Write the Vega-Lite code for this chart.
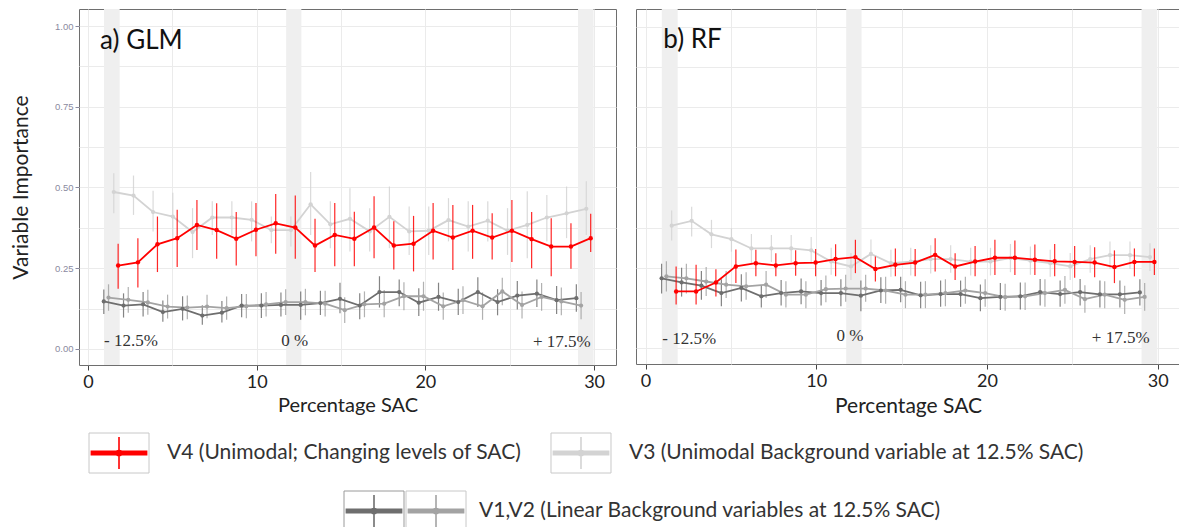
{
"$schema": "https://vega.github.io/schema/vega-lite/v6.json",
"background": "white",
"padding": {"left": 10, "top": 8, "right": 0, "bottom": 0},
"config": {"view": {"stroke": "#6e6e6e", "strokeWidth": 1}, "axis": {"gridColor": "#ebebeb", "gridWidth": 1}, "font": "Lato"},
"datasets": {
"bands": [{"start": 0.95, "end": 1.88}, {"start": 11.75, "end": 12.65}, {"start": 29.05, "end": 29.97}],
"notes": [
{"panel": "GLM", "label": "a) GLM", "sac": 0.72, "imp": 0.929},
{"panel": "GLM", "label": "- 12.5%", "sac": 0.95, "imp": 0.024},
{"panel": "GLM", "label": "0 %", "sac": 12.25, "imp": 0.024},
{"panel": "GLM", "label": "+ 17.5%", "sac": 29.8, "imp": 0.022},
{"panel": "RF", "label": "b) RF", "sac": 1.04, "imp": 0.935},
{"panel": "RF", "label": "- 12.5%", "sac": 0.98, "imp": 0.028},
{"panel": "RF", "label": "0 %", "sac": 11.97, "imp": 0.036},
{"panel": "RF", "label": "+ 17.5%", "sac": 29.52, "imp": 0.031}
],
"leg1": [{"series": "V4", "label": "V4 (Unimodal; Changing levels of SAC)"}, {"series": "V3", "label": "V3 (Unimodal Background variable at 12.5% SAC)"}],
"leg2": [{"series": "V1", "label": ""}, {"series": "V2", "label": "V1,V2 (Linear Background variables at 12.5% SAC)"}],
"pts": [
{"panel":"GLM","series":"V4","sac":1.79,"imp":0.258,"lo":0.186,"hi":0.326},
{"panel":"GLM","series":"V4","sac":2.96,"imp":0.268,"lo":0.190,"hi":0.343},
{"panel":"GLM","series":"V4","sac":4.12,"imp":0.324,"lo":0.238,"hi":0.410},
{"panel":"GLM","series":"V4","sac":5.29,"imp":0.343,"lo":0.254,"hi":0.431},
{"panel":"GLM","series":"V4","sac":6.46,"imp":0.384,"lo":0.306,"hi":0.461},
{"panel":"GLM","series":"V4","sac":7.63,"imp":0.368,"lo":0.279,"hi":0.451},
{"panel":"GLM","series":"V4","sac":8.79,"imp":0.341,"lo":0.258,"hi":0.424},
{"panel":"GLM","series":"V4","sac":9.96,"imp":0.369,"lo":0.287,"hi":0.452},
{"panel":"GLM","series":"V4","sac":11.13,"imp":0.389,"lo":0.295,"hi":0.480},
{"panel":"GLM","series":"V4","sac":12.29,"imp":0.376,"lo":0.279,"hi":0.475},
{"panel":"GLM","series":"V4","sac":13.46,"imp":0.320,"lo":0.238,"hi":0.403},
{"panel":"GLM","series":"V4","sac":14.63,"imp":0.353,"lo":0.256,"hi":0.452},
{"panel":"GLM","series":"V4","sac":15.79,"imp":0.341,"lo":0.256,"hi":0.425},
{"panel":"GLM","series":"V4","sac":16.96,"imp":0.376,"lo":0.281,"hi":0.473},
{"panel":"GLM","series":"V4","sac":18.13,"imp":0.320,"lo":0.246,"hi":0.395},
{"panel":"GLM","series":"V4","sac":19.30,"imp":0.326,"lo":0.240,"hi":0.412},
{"panel":"GLM","series":"V4","sac":20.46,"imp":0.366,"lo":0.277,"hi":0.452},
{"panel":"GLM","series":"V4","sac":21.63,"imp":0.345,"lo":0.244,"hi":0.446},
{"panel":"GLM","series":"V4","sac":22.80,"imp":0.366,"lo":0.279,"hi":0.446},
{"panel":"GLM","series":"V4","sac":23.96,"imp":0.345,"lo":0.277,"hi":0.420},
{"panel":"GLM","series":"V4","sac":25.13,"imp":0.366,"lo":0.269,"hi":0.461},
{"panel":"GLM","series":"V4","sac":26.30,"imp":0.340,"lo":0.250,"hi":0.424},
{"panel":"GLM","series":"V4","sac":27.46,"imp":0.317,"lo":0.225,"hi":0.405},
{"panel":"GLM","series":"V4","sac":28.63,"imp":0.317,"lo":0.248,"hi":0.389},
{"panel":"GLM","series":"V4","sac":29.80,"imp":0.343,"lo":0.300,"hi":0.419},
{"panel":"GLM","series":"V3","sac":1.53,"imp":0.486,"lo":0.420,"hi":0.544},
{"panel":"GLM","series":"V3","sac":2.70,"imp":0.475,"lo":0.415,"hi":0.537},
{"panel":"GLM","series":"V3","sac":3.86,"imp":0.424,"lo":0.364,"hi":0.490},
{"panel":"GLM","series":"V3","sac":5.03,"imp":0.410,"lo":0.343,"hi":0.484},
{"panel":"GLM","series":"V3","sac":6.20,"imp":0.362,"lo":0.281,"hi":0.436},
{"panel":"GLM","series":"V3","sac":7.37,"imp":0.407,"lo":0.353,"hi":0.457},
{"panel":"GLM","series":"V3","sac":8.53,"imp":0.407,"lo":0.353,"hi":0.457},
{"panel":"GLM","series":"V3","sac":9.70,"imp":0.400,"lo":0.333,"hi":0.457},
{"panel":"GLM","series":"V3","sac":10.87,"imp":0.368,"lo":0.327,"hi":0.410},
{"panel":"GLM","series":"V3","sac":12.03,"imp":0.368,"lo":0.317,"hi":0.410},
{"panel":"GLM","series":"V3","sac":13.20,"imp":0.448,"lo":0.353,"hi":0.548},
{"panel":"GLM","series":"V3","sac":14.37,"imp":0.386,"lo":0.312,"hi":0.457},
{"panel":"GLM","series":"V3","sac":15.53,"imp":0.403,"lo":0.302,"hi":0.498},
{"panel":"GLM","series":"V3","sac":16.70,"imp":0.364,"lo":0.302,"hi":0.436},
{"panel":"GLM","series":"V3","sac":17.87,"imp":0.409,"lo":0.312,"hi":0.503},
{"panel":"GLM","series":"V3","sac":19.04,"imp":0.364,"lo":0.291,"hi":0.441},
{"panel":"GLM","series":"V3","sac":20.20,"imp":0.366,"lo":0.291,"hi":0.441},
{"panel":"GLM","series":"V3","sac":21.37,"imp":0.399,"lo":0.333,"hi":0.467},
{"panel":"GLM","series":"V3","sac":22.54,"imp":0.379,"lo":0.302,"hi":0.457},
{"panel":"GLM","series":"V3","sac":23.70,"imp":0.397,"lo":0.333,"hi":0.457},
{"panel":"GLM","series":"V3","sac":24.87,"imp":0.366,"lo":0.291,"hi":0.436},
{"panel":"GLM","series":"V3","sac":26.04,"imp":0.384,"lo":0.281,"hi":0.488},
{"panel":"GLM","series":"V3","sac":27.20,"imp":0.407,"lo":0.333,"hi":0.477},
{"panel":"GLM","series":"V3","sac":28.37,"imp":0.420,"lo":0.343,"hi":0.503},
{"panel":"GLM","series":"V3","sac":29.54,"imp":0.434,"lo":0.353,"hi":0.519},
{"panel":"GLM","series":"V1","sac":0.94,"imp":0.147,"lo":0.108,"hi":0.184},
{"panel":"GLM","series":"V1","sac":2.11,"imp":0.134,"lo":0.097,"hi":0.172},
{"panel":"GLM","series":"V1","sac":3.27,"imp":0.138,"lo":0.100,"hi":0.176},
{"panel":"GLM","series":"V1","sac":4.44,"imp":0.114,"lo":0.084,"hi":0.150},
{"panel":"GLM","series":"V1","sac":5.61,"imp":0.124,"lo":0.088,"hi":0.163},
{"panel":"GLM","series":"V1","sac":6.78,"imp":0.103,"lo":0.075,"hi":0.135},
{"panel":"GLM","series":"V1","sac":7.94,"imp":0.112,"lo":0.082,"hi":0.148},
{"panel":"GLM","series":"V1","sac":9.11,"imp":0.134,"lo":0.098,"hi":0.170},
{"panel":"GLM","series":"V1","sac":10.28,"imp":0.134,"lo":0.096,"hi":0.172},
{"panel":"GLM","series":"V1","sac":11.44,"imp":0.136,"lo":0.100,"hi":0.175},
{"panel":"GLM","series":"V1","sac":12.61,"imp":0.136,"lo":0.090,"hi":0.178},
{"panel":"GLM","series":"V1","sac":13.78,"imp":0.142,"lo":0.105,"hi":0.180},
{"panel":"GLM","series":"V1","sac":14.94,"imp":0.155,"lo":0.110,"hi":0.205},
{"panel":"GLM","series":"V1","sac":16.11,"imp":0.134,"lo":0.092,"hi":0.172},
{"panel":"GLM","series":"V1","sac":17.28,"imp":0.176,"lo":0.128,"hi":0.225},
{"panel":"GLM","series":"V1","sac":18.45,"imp":0.176,"lo":0.132,"hi":0.215},
{"panel":"GLM","series":"V1","sac":19.61,"imp":0.143,"lo":0.102,"hi":0.188},
{"panel":"GLM","series":"V1","sac":20.78,"imp":0.161,"lo":0.118,"hi":0.205},
{"panel":"GLM","series":"V1","sac":21.95,"imp":0.145,"lo":0.105,"hi":0.186},
{"panel":"GLM","series":"V1","sac":23.11,"imp":0.176,"lo":0.130,"hi":0.222},
{"panel":"GLM","series":"V1","sac":24.28,"imp":0.145,"lo":0.104,"hi":0.185},
{"panel":"GLM","series":"V1","sac":25.45,"imp":0.165,"lo":0.122,"hi":0.210},
{"panel":"GLM","series":"V1","sac":26.61,"imp":0.171,"lo":0.130,"hi":0.215},
{"panel":"GLM","series":"V1","sac":27.78,"imp":0.151,"lo":0.108,"hi":0.195},
{"panel":"GLM","series":"V1","sac":28.95,"imp":0.157,"lo":0.115,"hi":0.200},
{"panel":"GLM","series":"V2","sac":1.22,"imp":0.159,"lo":0.118,"hi":0.200},
{"panel":"GLM","series":"V2","sac":2.39,"imp":0.152,"lo":0.112,"hi":0.192},
{"panel":"GLM","series":"V2","sac":3.55,"imp":0.144,"lo":0.106,"hi":0.183},
{"panel":"GLM","series":"V2","sac":4.72,"imp":0.131,"lo":0.094,"hi":0.168},
{"panel":"GLM","series":"V2","sac":5.89,"imp":0.128,"lo":0.092,"hi":0.165},
{"panel":"GLM","series":"V2","sac":7.06,"imp":0.131,"lo":0.095,"hi":0.168},
{"panel":"GLM","series":"V2","sac":8.22,"imp":0.126,"lo":0.090,"hi":0.162},
{"panel":"GLM","series":"V2","sac":9.39,"imp":0.132,"lo":0.095,"hi":0.170},
{"panel":"GLM","series":"V2","sac":10.56,"imp":0.138,"lo":0.100,"hi":0.176},
{"panel":"GLM","series":"V2","sac":11.72,"imp":0.145,"lo":0.105,"hi":0.185},
{"panel":"GLM","series":"V2","sac":12.89,"imp":0.145,"lo":0.104,"hi":0.186},
{"panel":"GLM","series":"V2","sac":14.06,"imp":0.140,"lo":0.100,"hi":0.180},
{"panel":"GLM","series":"V2","sac":15.22,"imp":0.120,"lo":0.080,"hi":0.160},
{"panel":"GLM","series":"V2","sac":16.39,"imp":0.138,"lo":0.098,"hi":0.178},
{"panel":"GLM","series":"V2","sac":17.56,"imp":0.140,"lo":0.098,"hi":0.182},
{"panel":"GLM","series":"V2","sac":18.73,"imp":0.163,"lo":0.120,"hi":0.206},
{"panel":"GLM","series":"V2","sac":19.89,"imp":0.163,"lo":0.118,"hi":0.208},
{"panel":"GLM","series":"V2","sac":21.06,"imp":0.132,"lo":0.090,"hi":0.175},
{"panel":"GLM","series":"V2","sac":22.23,"imp":0.151,"lo":0.108,"hi":0.194},
{"panel":"GLM","series":"V2","sac":23.39,"imp":0.132,"lo":0.090,"hi":0.175},
{"panel":"GLM","series":"V2","sac":24.56,"imp":0.178,"lo":0.135,"hi":0.220},
{"panel":"GLM","series":"V2","sac":25.73,"imp":0.136,"lo":0.094,"hi":0.178},
{"panel":"GLM","series":"V2","sac":26.89,"imp":0.161,"lo":0.118,"hi":0.204},
{"panel":"GLM","series":"V2","sac":28.06,"imp":0.147,"lo":0.104,"hi":0.190},
{"panel":"GLM","series":"V2","sac":29.23,"imp":0.134,"lo":0.092,"hi":0.176},
{"panel":"RF","series":"V4","sac":1.79,"imp":0.176,"lo":0.135,"hi":0.254},
{"panel":"RF","series":"V4","sac":2.96,"imp":0.176,"lo":0.135,"hi":0.259},
{"panel":"RF","series":"V4","sac":4.12,"imp":0.204,"lo":0.160,"hi":0.245},
{"panel":"RF","series":"V4","sac":5.29,"imp":0.254,"lo":0.202,"hi":0.307},
{"panel":"RF","series":"V4","sac":6.46,"imp":0.264,"lo":0.223,"hi":0.306},
{"panel":"RF","series":"V4","sac":7.63,"imp":0.257,"lo":0.223,"hi":0.295},
{"panel":"RF","series":"V4","sac":8.79,"imp":0.264,"lo":0.225,"hi":0.304},
{"panel":"RF","series":"V4","sac":9.96,"imp":0.266,"lo":0.223,"hi":0.308},
{"panel":"RF","series":"V4","sac":11.13,"imp":0.277,"lo":0.223,"hi":0.323},
{"panel":"RF","series":"V4","sac":12.29,"imp":0.283,"lo":0.233,"hi":0.337},
{"panel":"RF","series":"V4","sac":13.46,"imp":0.246,"lo":0.207,"hi":0.285},
{"panel":"RF","series":"V4","sac":14.63,"imp":0.259,"lo":0.223,"hi":0.310},
{"panel":"RF","series":"V4","sac":15.79,"imp":0.266,"lo":0.223,"hi":0.308},
{"panel":"RF","series":"V4","sac":16.96,"imp":0.290,"lo":0.238,"hi":0.342},
{"panel":"RF","series":"V4","sac":18.13,"imp":0.254,"lo":0.212,"hi":0.295},
{"panel":"RF","series":"V4","sac":19.30,"imp":0.269,"lo":0.223,"hi":0.318},
{"panel":"RF","series":"V4","sac":20.46,"imp":0.281,"lo":0.227,"hi":0.337},
{"panel":"RF","series":"V4","sac":21.63,"imp":0.281,"lo":0.227,"hi":0.335},
{"panel":"RF","series":"V4","sac":22.80,"imp":0.275,"lo":0.227,"hi":0.322},
{"panel":"RF","series":"V4","sac":23.96,"imp":0.270,"lo":0.223,"hi":0.324},
{"panel":"RF","series":"V4","sac":25.13,"imp":0.268,"lo":0.219,"hi":0.318},
{"panel":"RF","series":"V4","sac":26.30,"imp":0.266,"lo":0.220,"hi":0.314},
{"panel":"RF","series":"V4","sac":27.46,"imp":0.252,"lo":0.202,"hi":0.304},
{"panel":"RF","series":"V4","sac":28.63,"imp":0.268,"lo":0.223,"hi":0.310},
{"panel":"RF","series":"V4","sac":29.80,"imp":0.268,"lo":0.227,"hi":0.310},
{"panel":"RF","series":"V3","sac":1.53,"imp":0.381,"lo":0.335,"hi":0.428},
{"panel":"RF","series":"V3","sac":2.70,"imp":0.396,"lo":0.347,"hi":0.440},
{"panel":"RF","series":"V3","sac":3.86,"imp":0.354,"lo":0.311,"hi":0.399},
{"panel":"RF","series":"V3","sac":5.03,"imp":0.339,"lo":0.300,"hi":0.373},
{"panel":"RF","series":"V3","sac":6.20,"imp":0.310,"lo":0.264,"hi":0.355},
{"panel":"RF","series":"V3","sac":7.37,"imp":0.310,"lo":0.268,"hi":0.352},
{"panel":"RF","series":"V3","sac":8.53,"imp":0.310,"lo":0.268,"hi":0.352},
{"panel":"RF","series":"V3","sac":9.70,"imp":0.304,"lo":0.262,"hi":0.346},
{"panel":"RF","series":"V3","sac":10.87,"imp":0.269,"lo":0.228,"hi":0.312},
{"panel":"RF","series":"V3","sac":12.03,"imp":0.254,"lo":0.212,"hi":0.296},
{"panel":"RF","series":"V3","sac":13.20,"imp":0.293,"lo":0.250,"hi":0.338},
{"panel":"RF","series":"V3","sac":14.37,"imp":0.264,"lo":0.222,"hi":0.306},
{"panel":"RF","series":"V3","sac":15.53,"imp":0.269,"lo":0.226,"hi":0.312},
{"panel":"RF","series":"V3","sac":16.70,"imp":0.277,"lo":0.232,"hi":0.320},
{"panel":"RF","series":"V3","sac":17.87,"imp":0.277,"lo":0.234,"hi":0.320},
{"panel":"RF","series":"V3","sac":19.04,"imp":0.269,"lo":0.226,"hi":0.312},
{"panel":"RF","series":"V3","sac":20.20,"imp":0.269,"lo":0.226,"hi":0.312},
{"panel":"RF","series":"V3","sac":21.37,"imp":0.280,"lo":0.236,"hi":0.324},
{"panel":"RF","series":"V3","sac":22.54,"imp":0.272,"lo":0.228,"hi":0.316},
{"panel":"RF","series":"V3","sac":23.70,"imp":0.264,"lo":0.222,"hi":0.306},
{"panel":"RF","series":"V3","sac":24.87,"imp":0.254,"lo":0.212,"hi":0.296},
{"panel":"RF","series":"V3","sac":26.04,"imp":0.277,"lo":0.234,"hi":0.320},
{"panel":"RF","series":"V3","sac":27.20,"imp":0.289,"lo":0.246,"hi":0.332},
{"panel":"RF","series":"V3","sac":28.37,"imp":0.289,"lo":0.246,"hi":0.332},
{"panel":"RF","series":"V3","sac":29.54,"imp":0.283,"lo":0.240,"hi":0.326},
{"panel":"RF","series":"V1","sac":0.94,"imp":0.217,"lo":0.170,"hi":0.262},
{"panel":"RF","series":"V1","sac":2.11,"imp":0.204,"lo":0.160,"hi":0.250},
{"panel":"RF","series":"V1","sac":3.27,"imp":0.194,"lo":0.150,"hi":0.240},
{"panel":"RF","series":"V1","sac":4.44,"imp":0.171,"lo":0.130,"hi":0.214},
{"panel":"RF","series":"V1","sac":5.61,"imp":0.187,"lo":0.145,"hi":0.230},
{"panel":"RF","series":"V1","sac":6.78,"imp":0.161,"lo":0.126,"hi":0.196},
{"panel":"RF","series":"V1","sac":7.94,"imp":0.171,"lo":0.132,"hi":0.212},
{"panel":"RF","series":"V1","sac":9.11,"imp":0.176,"lo":0.136,"hi":0.216},
{"panel":"RF","series":"V1","sac":10.28,"imp":0.171,"lo":0.132,"hi":0.212},
{"panel":"RF","series":"V1","sac":11.44,"imp":0.171,"lo":0.130,"hi":0.214},
{"panel":"RF","series":"V1","sac":12.61,"imp":0.163,"lo":0.114,"hi":0.210},
{"panel":"RF","series":"V1","sac":13.78,"imp":0.179,"lo":0.140,"hi":0.220},
{"panel":"RF","series":"V1","sac":14.94,"imp":0.181,"lo":0.142,"hi":0.222},
{"panel":"RF","series":"V1","sac":16.11,"imp":0.164,"lo":0.124,"hi":0.206},
{"panel":"RF","series":"V1","sac":17.28,"imp":0.168,"lo":0.128,"hi":0.210},
{"panel":"RF","series":"V1","sac":18.45,"imp":0.168,"lo":0.128,"hi":0.210},
{"panel":"RF","series":"V1","sac":19.61,"imp":0.155,"lo":0.114,"hi":0.198},
{"panel":"RF","series":"V1","sac":20.78,"imp":0.159,"lo":0.118,"hi":0.202},
{"panel":"RF","series":"V1","sac":21.95,"imp":0.161,"lo":0.120,"hi":0.204},
{"panel":"RF","series":"V1","sac":23.11,"imp":0.174,"lo":0.132,"hi":0.215},
{"panel":"RF","series":"V1","sac":24.28,"imp":0.168,"lo":0.128,"hi":0.210},
{"panel":"RF","series":"V1","sac":25.45,"imp":0.174,"lo":0.132,"hi":0.215},
{"panel":"RF","series":"V1","sac":26.61,"imp":0.167,"lo":0.126,"hi":0.210},
{"panel":"RF","series":"V1","sac":27.78,"imp":0.167,"lo":0.126,"hi":0.210},
{"panel":"RF","series":"V1","sac":28.95,"imp":0.173,"lo":0.132,"hi":0.214},
{"panel":"RF","series":"V2","sac":1.22,"imp":0.223,"lo":0.176,"hi":0.270},
{"panel":"RF","series":"V2","sac":2.39,"imp":0.217,"lo":0.170,"hi":0.262},
{"panel":"RF","series":"V2","sac":3.55,"imp":0.207,"lo":0.162,"hi":0.252},
{"panel":"RF","series":"V2","sac":4.72,"imp":0.197,"lo":0.156,"hi":0.240},
{"panel":"RF","series":"V2","sac":5.89,"imp":0.192,"lo":0.150,"hi":0.236},
{"panel":"RF","series":"V2","sac":7.06,"imp":0.197,"lo":0.156,"hi":0.240},
{"panel":"RF","series":"V2","sac":8.22,"imp":0.166,"lo":0.126,"hi":0.208},
{"panel":"RF","series":"V2","sac":9.39,"imp":0.166,"lo":0.124,"hi":0.208},
{"panel":"RF","series":"V2","sac":10.56,"imp":0.183,"lo":0.142,"hi":0.226},
{"panel":"RF","series":"V2","sac":11.72,"imp":0.185,"lo":0.144,"hi":0.228},
{"panel":"RF","series":"V2","sac":12.89,"imp":0.185,"lo":0.144,"hi":0.228},
{"panel":"RF","series":"V2","sac":14.06,"imp":0.179,"lo":0.138,"hi":0.222},
{"panel":"RF","series":"V2","sac":15.22,"imp":0.166,"lo":0.124,"hi":0.208},
{"panel":"RF","series":"V2","sac":16.39,"imp":0.166,"lo":0.124,"hi":0.208},
{"panel":"RF","series":"V2","sac":17.56,"imp":0.171,"lo":0.130,"hi":0.214},
{"panel":"RF","series":"V2","sac":18.73,"imp":0.179,"lo":0.138,"hi":0.222},
{"panel":"RF","series":"V2","sac":19.89,"imp":0.171,"lo":0.128,"hi":0.214},
{"panel":"RF","series":"V2","sac":21.06,"imp":0.158,"lo":0.116,"hi":0.200},
{"panel":"RF","series":"V2","sac":22.23,"imp":0.161,"lo":0.118,"hi":0.204},
{"panel":"RF","series":"V2","sac":23.39,"imp":0.171,"lo":0.128,"hi":0.214},
{"panel":"RF","series":"V2","sac":24.56,"imp":0.181,"lo":0.138,"hi":0.224},
{"panel":"RF","series":"V2","sac":25.73,"imp":0.152,"lo":0.110,"hi":0.195},
{"panel":"RF","series":"V2","sac":26.89,"imp":0.166,"lo":0.124,"hi":0.208},
{"panel":"RF","series":"V2","sac":28.06,"imp":0.150,"lo":0.106,"hi":0.194},
{"panel":"RF","series":"V2","sac":29.23,"imp":0.159,"lo":0.116,"hi":0.202}
]
},
"spacing": 14,
"vconcat": [
{"hconcat": [
{"width": 537, "height": 356,
"layer": [
{"data": {"name": "bands"}, "mark": {"type": "rect", "color": "#efefef"},
 "encoding": {
  "x": {"field": "start", "type": "quantitative", "title": "Percentage SAC", "scale": {"domain": [-0.53, 31.3], "nice": false, "zero": false},
   "axis": {"values": [0,5,10,15,20,25,30], "labelExpr": "datum.value % 10 === 0 ? datum.label : ''", "tickOpacity": {"condition": {"test": "datum.value % 10 === 0", "value": 1}, "value": 0}, "grid": true, "domain": false, "tickSize": 5, "tickColor": "#444", "labelFontSize": 18, "labelFont": "Lato", "labelColor": "#222", "labelPadding": 3, "labelFlush": false, "titleFontSize": 20, "titleFont": "Lato", "titleFontWeight": "normal", "titleColor": "#222", "titlePadding": 4}},
  "x2": {"field": "end"}}},
{"data": {"name": "pts"}, "transform": [{"filter": "datum.panel === 'GLM' && datum.series !== 'V4'"}],
 "mark": {"type": "rule", "strokeWidth": 1.2, "opacity": 0.85},
 "encoding": {"x": {"field": "sac", "type": "quantitative", "title": "Percentage SAC"},
  "y": {"field": "lo", "type": "quantitative", "title": "Variable Importance", "scale": {"domain": [-0.05, 1.053], "nice": false, "zero": false},
   "axis": {"values": [0,0.125,0.25,0.375,0.5,0.625,0.75,0.875,1], "labelExpr": "datum.value % 0.25 === 0 ? format(datum.value, '.2f') : ''", "tickOpacity": {"condition": {"test": "datum.value % 0.25 === 0", "value": 1}, "value": 0}, "grid": true, "domain": false, "tickSize": 4, "tickColor": "#8a8aa0", "labelFont": "Liberation Sans", "labelFontSize": 9.5, "labelColor": "#8a8aa0", "labelPadding": 2, "titleFont": "Lato", "titleFontSize": 21, "titleFontWeight": "normal", "titleColor": "#222", "titlePadding": 23}},
  "y2": {"field": "hi"},
  "color": {"field": "series", "type": "nominal", "scale": {"domain": ["V1","V2","V3","V4"], "range": ["#6e6e6e","#a3a3a3","#d3d3d3","#ff0000"]}, "legend": null}}},
{"data": {"name": "pts"}, "transform": [{"filter": "datum.panel === 'GLM' && datum.series !== 'V4'"}],
 "mark": {"type": "line", "strokeWidth": 1.8},
 "encoding": {"x": {"field": "sac", "type": "quantitative", "title": "Percentage SAC"}, "y": {"field": "imp", "type": "quantitative", "title": "Variable Importance"}, "color": {"field": "series", "type": "nominal", "legend": null}}},
{"data": {"name": "pts"}, "transform": [{"filter": "datum.panel === 'GLM' && datum.series !== 'V4'"}],
 "mark": {"type": "circle", "size": 18, "opacity": 1},
 "encoding": {"x": {"field": "sac", "type": "quantitative", "title": "Percentage SAC"}, "y": {"field": "imp", "type": "quantitative", "title": "Variable Importance"}, "color": {"field": "series", "type": "nominal", "legend": null}}},
{"data": {"name": "pts"}, "transform": [{"filter": "datum.panel === 'GLM' && datum.series === 'V4'"}],
 "mark": {"type": "rule", "strokeWidth": 1.2, "opacity": 0.85},
 "encoding": {"x": {"field": "sac", "type": "quantitative", "title": "Percentage SAC"}, "y": {"field": "lo", "type": "quantitative", "title": "Variable Importance"}, "y2": {"field": "hi"}, "color": {"field": "series", "type": "nominal", "legend": null}}},
{"data": {"name": "pts"}, "transform": [{"filter": "datum.panel === 'GLM' && datum.series === 'V4'"}],
 "mark": {"type": "line", "strokeWidth": 1.8},
 "encoding": {"x": {"field": "sac", "type": "quantitative", "title": "Percentage SAC"}, "y": {"field": "imp", "type": "quantitative", "title": "Variable Importance"}, "color": {"field": "series", "type": "nominal", "legend": null}}},
{"data": {"name": "pts"}, "transform": [{"filter": "datum.panel === 'GLM' && datum.series === 'V4'"}],
 "mark": {"type": "circle", "size": 20, "opacity": 1},
 "encoding": {"x": {"field": "sac", "type": "quantitative", "title": "Percentage SAC"}, "y": {"field": "imp", "type": "quantitative", "title": "Variable Importance"}, "color": {"field": "series", "type": "nominal", "legend": null}}},
{"data": {"name": "notes"}, "transform": [{"filter": "datum.panel === 'GLM' && datum.label === 'a) GLM'"}],
 "mark": {"type": "text", "align": "left", "baseline": "alphabetic", "font": "Lato", "fontSize": 26, "color": "#111"},
 "encoding": {"x": {"field": "sac", "type": "quantitative", "title": "Percentage SAC"}, "y": {"field": "imp", "type": "quantitative", "title": "Variable Importance"}, "text": {"field": "label"}}},
{"data": {"name": "notes"}, "transform": [{"filter": "datum.panel === 'GLM' && datum.label === '- 12.5%'"}],
 "mark": {"type": "text", "align": "left", "baseline": "middle", "font": "Liberation Serif", "fontSize": 17, "color": "#333"},
 "encoding": {"x": {"field": "sac", "type": "quantitative", "title": "Percentage SAC"}, "y": {"field": "imp", "type": "quantitative", "title": "Variable Importance"}, "text": {"field": "label"}}},
{"data": {"name": "notes"}, "transform": [{"filter": "datum.panel === 'GLM' && datum.label === '0 %'"}],
 "mark": {"type": "text", "align": "center", "baseline": "middle", "font": "Liberation Serif", "fontSize": 17, "color": "#333"},
 "encoding": {"x": {"field": "sac", "type": "quantitative", "title": "Percentage SAC"}, "y": {"field": "imp", "type": "quantitative", "title": "Variable Importance"}, "text": {"field": "label"}}},
{"data": {"name": "notes"}, "transform": [{"filter": "datum.panel === 'GLM' && datum.label === '+ 17.5%'"}],
 "mark": {"type": "text", "align": "right", "baseline": "middle", "font": "Liberation Serif", "fontSize": 17, "color": "#333"},
 "encoding": {"x": {"field": "sac", "type": "quantitative", "title": "Percentage SAC"}, "y": {"field": "imp", "type": "quantitative", "title": "Variable Importance"}, "text": {"field": "label"}}}
]},
{"width": 544, "height": 355,
"layer": [
{"data": {"name": "bands"}, "mark": {"type": "rect", "color": "#efefef"},
 "encoding": {
  "x": {"field": "start", "type": "quantitative", "title": "Percentage SAC", "scale": {"domain": [-0.56, 31.3], "nice": false, "zero": false},
   "axis": {"values": [0,5,10,15,20,25,30], "labelExpr": "datum.value % 10 === 0 ? datum.label : ''", "tickOpacity": {"condition": {"test": "datum.value % 10 === 0", "value": 1}, "value": 0}, "grid": true, "domain": false, "tickSize": 5, "tickColor": "#444", "labelFontSize": 18, "labelFont": "Lato", "labelColor": "#222", "labelPadding": 3, "labelFlush": false, "titleFontSize": 21, "titleFont": "Lato", "titleFontWeight": "normal", "titleColor": "#222", "titlePadding": 5}},
  "x2": {"field": "end"}}},
{"data": {"name": "pts"}, "transform": [{"filter": "datum.panel === 'RF' && datum.series !== 'V4'"}],
 "mark": {"type": "rule", "strokeWidth": 1.2, "opacity": 0.85},
 "encoding": {"x": {"field": "sac", "type": "quantitative", "title": "Percentage SAC"},
  "y": {"field": "lo", "type": "quantitative", "title": null, "scale": {"domain": [-0.05, 1.056], "nice": false, "zero": false},
   "axis": {"values": [0,0.125,0.25,0.375,0.5,0.625,0.75,0.875,1], "grid": true, "labels": false, "ticks": false, "domain": false, "title": null}},
  "y2": {"field": "hi"},
  "color": {"field": "series", "type": "nominal", "scale": {"domain": ["V1","V2","V3","V4"], "range": ["#6e6e6e","#a3a3a3","#d3d3d3","#ff0000"]}, "legend": null}}},
{"data": {"name": "pts"}, "transform": [{"filter": "datum.panel === 'RF' && datum.series !== 'V4'"}],
 "mark": {"type": "line", "strokeWidth": 1.8},
 "encoding": {"x": {"field": "sac", "type": "quantitative", "title": "Percentage SAC"}, "y": {"field": "imp", "type": "quantitative", "title": null}, "color": {"field": "series", "type": "nominal", "legend": null}}},
{"data": {"name": "pts"}, "transform": [{"filter": "datum.panel === 'RF' && datum.series !== 'V4'"}],
 "mark": {"type": "circle", "size": 18, "opacity": 1},
 "encoding": {"x": {"field": "sac", "type": "quantitative", "title": "Percentage SAC"}, "y": {"field": "imp", "type": "quantitative", "title": null}, "color": {"field": "series", "type": "nominal", "legend": null}}},
{"data": {"name": "pts"}, "transform": [{"filter": "datum.panel === 'RF' && datum.series === 'V4'"}],
 "mark": {"type": "rule", "strokeWidth": 1.2, "opacity": 0.85},
 "encoding": {"x": {"field": "sac", "type": "quantitative", "title": "Percentage SAC"}, "y": {"field": "lo", "type": "quantitative", "title": null}, "y2": {"field": "hi"}, "color": {"field": "series", "type": "nominal", "legend": null}}},
{"data": {"name": "pts"}, "transform": [{"filter": "datum.panel === 'RF' && datum.series === 'V4'"}],
 "mark": {"type": "line", "strokeWidth": 1.8},
 "encoding": {"x": {"field": "sac", "type": "quantitative", "title": "Percentage SAC"}, "y": {"field": "imp", "type": "quantitative", "title": null}, "color": {"field": "series", "type": "nominal", "legend": null}}},
{"data": {"name": "pts"}, "transform": [{"filter": "datum.panel === 'RF' && datum.series === 'V4'"}],
 "mark": {"type": "circle", "size": 20, "opacity": 1},
 "encoding": {"x": {"field": "sac", "type": "quantitative", "title": "Percentage SAC"}, "y": {"field": "imp", "type": "quantitative", "title": null}, "color": {"field": "series", "type": "nominal", "legend": null}}},
{"data": {"name": "notes"}, "transform": [{"filter": "datum.panel === 'RF' && datum.label === 'b) RF'"}],
 "mark": {"type": "text", "align": "left", "baseline": "alphabetic", "font": "Lato", "fontSize": 26, "color": "#111"},
 "encoding": {"x": {"field": "sac", "type": "quantitative", "title": "Percentage SAC"}, "y": {"field": "imp", "type": "quantitative", "title": null}, "text": {"field": "label"}}},
{"data": {"name": "notes"}, "transform": [{"filter": "datum.panel === 'RF' && datum.label === '- 12.5%'"}],
 "mark": {"type": "text", "align": "left", "baseline": "middle", "font": "Liberation Serif", "fontSize": 17, "color": "#333"},
 "encoding": {"x": {"field": "sac", "type": "quantitative", "title": "Percentage SAC"}, "y": {"field": "imp", "type": "quantitative", "title": null}, "text": {"field": "label"}}},
{"data": {"name": "notes"}, "transform": [{"filter": "datum.panel === 'RF' && datum.label === '0 %'"}],
 "mark": {"type": "text", "align": "center", "baseline": "middle", "font": "Liberation Serif", "fontSize": 17, "color": "#333"},
 "encoding": {"x": {"field": "sac", "type": "quantitative", "title": "Percentage SAC"}, "y": {"field": "imp", "type": "quantitative", "title": null}, "text": {"field": "label"}}},
{"data": {"name": "notes"}, "transform": [{"filter": "datum.panel === 'RF' && datum.label === '+ 17.5%'"}],
 "mark": {"type": "text", "align": "right", "baseline": "middle", "font": "Liberation Serif", "fontSize": 17, "color": "#333"},
 "encoding": {"x": {"field": "sac", "type": "quantitative", "title": "Percentage SAC"}, "y": {"field": "imp", "type": "quantitative", "title": null}, "text": {"field": "label"}}}
]}
], "spacing": 18},
{"width": 542, "height": 42, "view": {"stroke": null},
 "data": {"name": "leg1"},
 "encoding": {"x": {"field": "series", "type": "nominal", "scale": {"type": "point", "domain": ["V4","V3"], "padding": 0.0866}, "axis": null}},
 "layer": [
  {"mark": {"type": "point", "shape": "M-1.5,-1L1.5,-1L1.5,1L-1.5,1Z", "size": 1600, "filled": true, "fill": "white", "stroke": "#c8c8c8", "strokeWidth": 1, "opacity": 1}},
  {"mark": {"type": "point", "shape": "M-1.42,-0.13L1.42,-0.13L1.42,0.13L-1.42,0.13Z", "size": 1600, "filled": true, "strokeWidth": 0, "opacity": 1},
   "encoding": {"color": {"field": "series", "type": "nominal", "scale": {"domain": ["V1","V2","V3","V4"], "range": ["#8a8a8a","#a8a8a8","#d6d6d6","#ff0000"]}, "legend": null}}},
  {"mark": {"type": "point", "shape": "M0,-0.8L0,0.8", "size": 1600, "filled": false, "strokeWidth": 1.6, "opacity": 1},
   "encoding": {"color": {"field": "series", "type": "nominal", "legend": null}}},
  {"mark": {"type": "circle", "size": 45, "opacity": 1},
   "encoding": {"color": {"field": "series", "type": "nominal", "legend": null}}},
  {"mark": {"type": "text", "align": "left", "baseline": "middle", "dx": 48, "font": "Lato", "fontSize": 21, "color": "#333"},
   "encoding": {"text": {"field": "label"}}}
 ]},
{"hconcat": [
 {"width": 233, "height": 42, "view": {"stroke": null},
  "data": {"name": "leg2"}, "transform": [{"filter": "false"}],
  "mark": {"type": "point", "opacity": 0}},
 {"width": 186, "height": 42, "view": {"stroke": null},
  "data": {"name": "leg2"},
  "encoding": {"x": {"field": "series", "type": "nominal", "scale": {"type": "point", "domain": ["V1","V2"], "padding": 1}, "axis": null}},
  "layer": [
   {"mark": {"type": "point", "shape": "M-1.5,-1L1.5,-1L1.5,1L-1.5,1Z", "size": 1600, "filled": true, "fill": "white", "strokeWidth": 1, "opacity": 1},
    "encoding": {"stroke": {"condition": {"test": "datum.series === 'V1'", "value": "#9a9a9a"}, "value": "#c8c8c8"}}},
   {"mark": {"type": "point", "shape": "M-1.42,-0.13L1.42,-0.13L1.42,0.13L-1.42,0.13Z", "size": 1600, "filled": true, "strokeWidth": 0, "opacity": 1},
    "encoding": {"color": {"field": "series", "type": "nominal", "scale": {"domain": ["V1","V2","V3","V4"], "range": ["#8a8a8a","#a8a8a8","#d6d6d6","#ff0000"]}, "legend": null}}},
   {"mark": {"type": "point", "shape": "M0,-0.8L0,0.8", "size": 1600, "filled": false, "strokeWidth": 1.6, "opacity": 1},
    "encoding": {"color": {"field": "series", "type": "nominal", "legend": null}}},
   {"mark": {"type": "circle", "size": 45, "opacity": 1},
    "encoding": {"color": {"field": "series", "type": "nominal", "legend": null}}},
   {"transform": [{"filter": "datum.label !== ''"}],
    "mark": {"type": "text", "align": "left", "baseline": "middle", "dx": 43, "font": "Lato", "fontSize": 21, "color": "#333"},
    "encoding": {"text": {"field": "label"}}}
  ]}
 ], "spacing": 0}
]
}
